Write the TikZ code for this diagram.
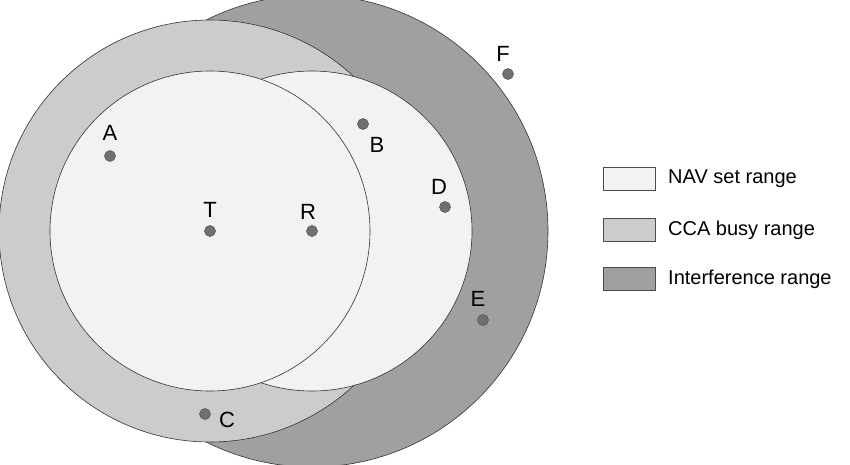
\documentclass[tikz,border=0pt]{standalone}
\usepackage{fontspec}
\setmainfont{Liberation Sans}
\definecolor{nav}{HTML}{F2F2F2}
\definecolor{cca}{HTML}{CCCCCC}
\definecolor{intf}{HTML}{A0A0A0}
\definecolor{dotc}{HTML}{707070}
\begin{document}
\begin{tikzpicture}[x=1pt,y=-1pt,
  ring/.style={draw=black!80,line width=0.6pt},
  dotm/.style={circle,fill=dotc,draw=black!70,line width=0.5pt,inner sep=0pt,minimum size=11pt},
  lab/.style={font=\fontsize{22}{22}\selectfont,inner sep=0pt},
  lbox/.style={draw=black!70,line width=0.6pt,minimum width=52pt,minimum height=23pt,inner sep=0pt},
  ltxt/.style={font=\fontsize{20}{20}\selectfont,anchor=west,inner sep=0pt}]
\useasboundingbox (0,0) rectangle (850,464);
\begin{scope}
\clip (0,0) rectangle (850,464);
\fill[intf,ring] (312,231) circle (236);
\fill[cca,ring] (210,231) circle (211);
\fill[nav,ring] (312,231) circle (160);
\fill[nav,ring] (210,231) circle (160);
\end{scope}
\node[dotm] (T) at (210,231) {};
\node[lab] at (210,210) {T};
\node[dotm] (R) at (312,231) {};
\node[lab] at (308,212) {R};
\node[dotm] (A) at (110,156) {};
\node[lab] at (110,133) {A};
\node[dotm] (B) at (363,124) {};
\node[lab] at (377,145) {B};
\node[dotm] (D) at (445,207) {};
\node[lab] at (439,187) {D};
\node[dotm] (E) at (483,320) {};
\node[lab] at (478,299) {E};
\node[dotm] (F) at (508,74) {};
\node[lab] at (503,54) {F};
\node[dotm] (C) at (205,414) {};
\node[lab] at (227,420) {C};
\node[lbox,fill=nav] (l1) at (629,179) {};
\node[ltxt] at (668,179) {NAV set range};
\node[lbox,fill=cca] (l2) at (629,230) {};
\node[ltxt] at (668,230) {CCA busy range};
\node[lbox,fill=intf] (l3) at (629,279) {};
\node[ltxt] at (668,279) {Interference range};
\end{tikzpicture}
\end{document}
